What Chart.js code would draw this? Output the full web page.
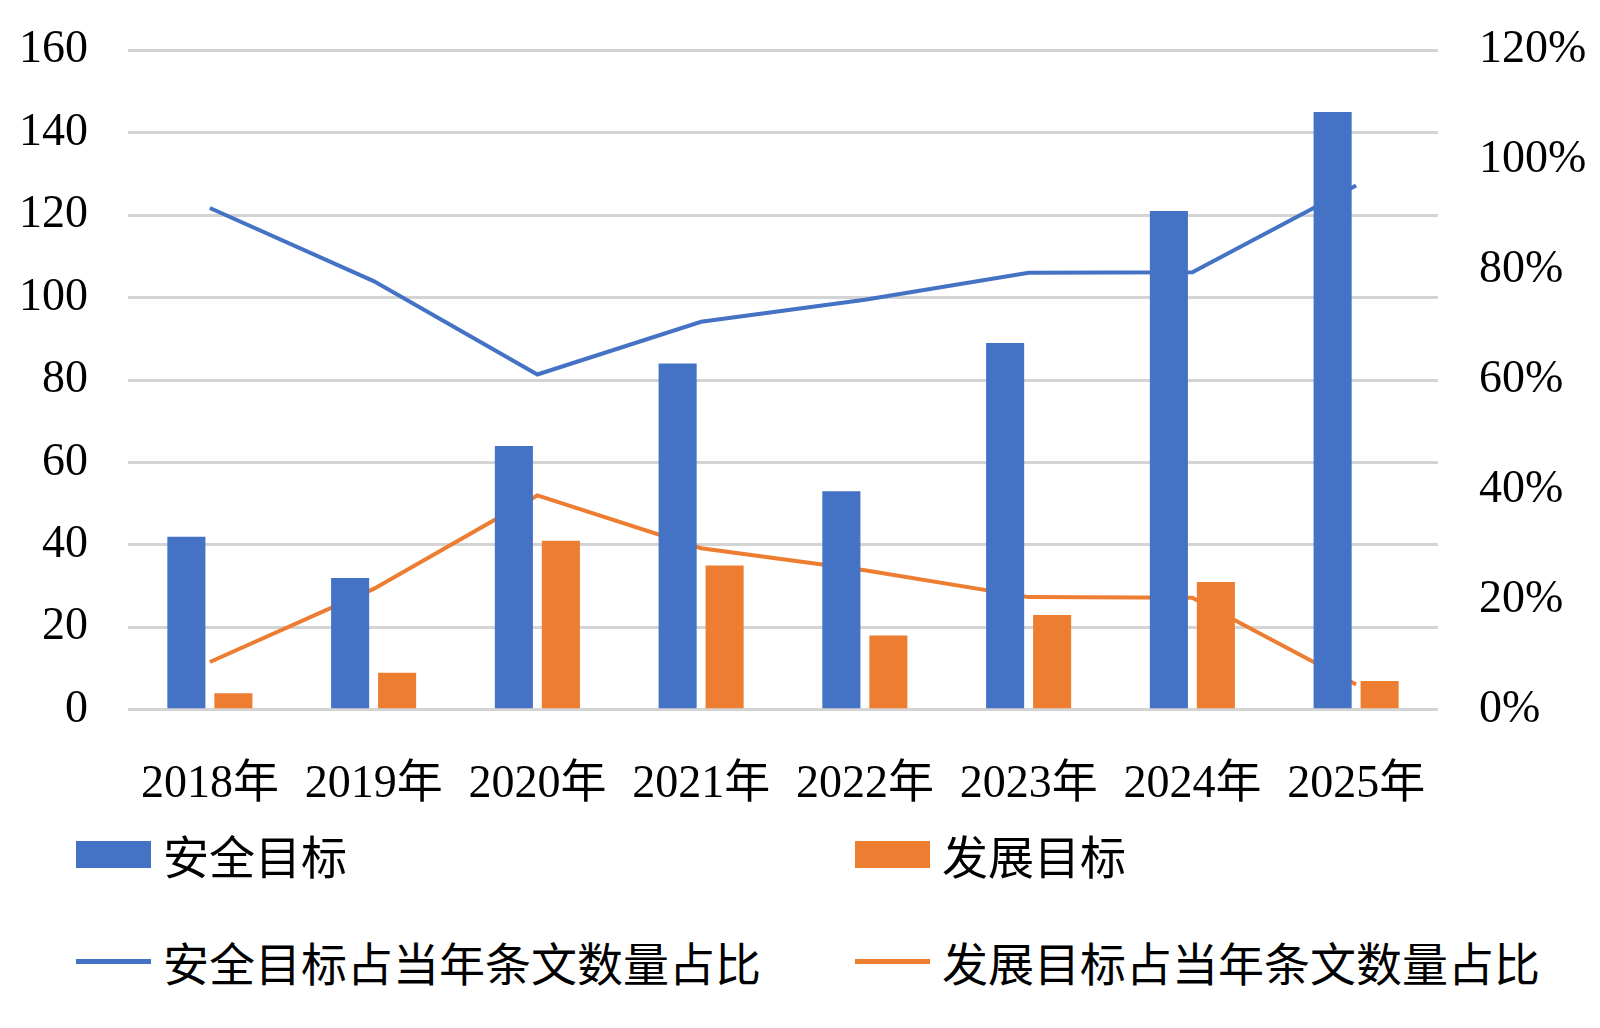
<!DOCTYPE html>
<html>
<head>
<meta charset="utf-8">
<script src="https://cdn.jsdelivr.net/npm/chart.js@4.4.1/dist/chart.umd.min.js"></script>
<style>
  body { margin: 0; background: #fff; }
  .wrap { position: relative; width: 1600px; height: 1028px; }
  #chartBox { position: absolute; left: 0; top: 0; width: 1600px; height: 874px; }
  .legendItem { position: absolute; display: flex; align-items: center; height: 60px;
    font-family: "Liberation Serif", "Noto Sans CJK SC", serif; font-size: 46px; color: #000; }
  .legendItem .mark { width: 75px; margin-right: 12px; }
</style>
</head>
<body>
<div class="wrap">
  <div id="chartBox"><canvas id="myChart"></canvas></div>
  <div id="legend"></div>
</div>
<script>
// ---- data ----
var years = ['2018年', '2019年', '2020年', '2021年', '2022年', '2023年', '2024年', '2025年'];
var safetyCount = [42, 32, 64, 84, 53, 89, 121, 145];
var devCount = [4, 9, 41, 35, 18, 23, 31, 7];
var safetyShare = [91.3, 78.0, 61.0, 70.6, 74.6, 79.5, 79.6, 95.4];
var devShare = [8.7, 22.0, 39.0, 29.4, 25.4, 20.5, 20.4, 4.6];

var blue = '#4472C4';
var orange = '#ED7D31';
var fontFamily = '"Liberation Serif", "Noto Sans CJK SC", serif';
var tickFont = { family: fontFamily, size: 46 };
// small lineHeight on the value axes so the plot can start near the top
var valueFont = { family: fontFamily, size: 46, lineHeight: 0.4 };

var ctx = document.getElementById('myChart').getContext('2d');

new Chart(ctx, {
  type: 'bar',
  data: {
    labels: years,
    datasets: [
      { label: '安全目标', data: safetyCount, backgroundColor: blue, yAxisID: 'y', order: 1,
        categoryPercentage: 0.574, barPercentage: 0.81 },
      { label: '发展目标', data: devCount, backgroundColor: orange, yAxisID: 'y', order: 1,
        categoryPercentage: 0.574, barPercentage: 0.81 },
      { type: 'line', label: '安全目标占当年条文数量占比', data: safetyShare, borderColor: blue,
        borderWidth: 4, pointRadius: 0, tension: 0, yAxisID: 'y1', order: 2 },
      { type: 'line', label: '发展目标占当年条文数量占比', data: devShare, borderColor: orange,
        borderWidth: 4, pointRadius: 0, tension: 0, yAxisID: 'y1', order: 2 }
    ]
  },
  options: {
    responsive: true,
    maintainAspectRatio: false,
    devicePixelRatio: 1,
    animation: false,
    layout: { padding: { top: 0, bottom: 21 } },
    plugins: { legend: { display: false }, tooltip: { enabled: false } },
    scales: {
      x: {
        grid: { display: false },
        border: { display: false },
        ticks: { font: tickFont, color: '#000', padding: 40, maxRotation: 0 }
      },
      y: {
        position: 'left',
        min: 0, max: 160,
        ticks: { stepSize: 20, font: valueFont, color: '#000', padding: 40 },
        grid: { color: '#D4D4D4', lineWidth: 3, drawTicks: false },
        border: { display: false },
        afterFit: function (s) { s.width = 128; }
      },
      y1: {
        position: 'right',
        min: 0, max: 120,
        ticks: { stepSize: 20, font: valueFont, color: '#000', padding: 41,
          callback: function (v) { return v + '%'; } },
        grid: { display: false, drawTicks: false },
        border: { display: false },
        afterFit: function (s) { s.width = 162; }
      }
    }
  }
});

// ---- legend, 2 x 2 like the original ----
var legendItems = [
  { text: '安全目标', color: blue, kind: 'box', x: 76, y: 824 },
  { text: '发展目标', color: orange, kind: 'box', x: 855, y: 824 },
  { text: '安全目标占当年条文数量占比', color: blue, kind: 'line', x: 76, y: 931 },
  { text: '发展目标占当年条文数量占比', color: orange, kind: 'line', x: 855, y: 931 }
];
var legendBox = document.getElementById('legend');
legendItems.forEach(function (item) {
  var h = item.kind === 'box' ? 27 : 5;
  legendBox.innerHTML += '<div class="legendItem" style="left:' + item.x + 'px;top:' + item.y + 'px">' +
    '<div class="mark" style="height:' + h + 'px;background:' + item.color + '"></div>' +
    '<span>' + item.text + '</span></div>';
});
</script>
</body>
</html>
